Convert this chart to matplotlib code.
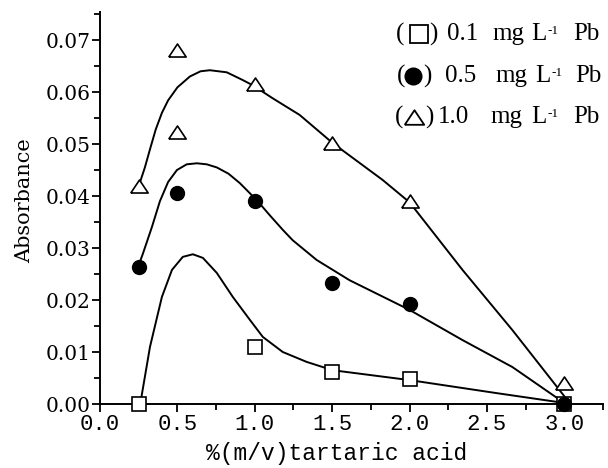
import matplotlib.pyplot as plt
from matplotlib.ticker import MultipleLocator, FormatStrFormatter

plt.rcParams['mathtext.fontset'] = 'stix'

# measured points (% m/v tartaric acid vs absorbance)
x_01 = [0.25, 1.0, 1.5, 2.0, 3.0]
y_01 = [0.0, 0.011, 0.0062, 0.0048, 0.0]

x_05 = [0.25, 0.5, 1.0, 1.5, 2.0, 3.0]
y_05 = [0.0263, 0.0406, 0.039, 0.0232, 0.0192, 0.0]

x_10 = [0.25, 0.5, 0.5, 1.0, 1.5, 2.0, 3.0]
y_10 = [0.0419, 0.0681, 0.0523, 0.0615, 0.0502, 0.0390, 0.0040]

# smoothed curves
fit_x_01 = [0.26, 0.323, 0.40, 0.465, 0.535, 0.60, 0.665, 0.755, 0.858, 0.968,
            1.052, 1.181, 1.335, 1.503, 2.0, 2.561, 3.0]
fit_y_01 = [0.0, 0.011, 0.0206, 0.0258, 0.0283, 0.0288, 0.0281, 0.0252, 0.0206,
            0.0162, 0.0129, 0.0100, 0.0081, 0.0065, 0.0046, 0.0021, 0.0002]

fit_x_05 = [0.245, 0.277, 0.335, 0.387, 0.44, 0.497, 0.56, 0.626, 0.69, 0.755,
            0.83, 0.903, 1.013, 1.10, 1.181, 1.245, 1.400, 1.613, 1.742, 2.0,
            2.342, 2.665, 3.0]
fit_y_05 = [0.0263, 0.0289, 0.0340, 0.0390, 0.0427, 0.0450, 0.0461, 0.0463, 0.0461,
            0.0455, 0.0443, 0.0425, 0.0392, 0.0362, 0.0335, 0.0315, 0.0277, 0.0238,
            0.0219, 0.0181, 0.0123, 0.0071, 0.0002]

fit_x_10 = [0.25, 0.29, 0.323, 0.36, 0.40, 0.44, 0.50, 0.581, 0.650, 0.710, 0.819,
            0.923, 0.987, 1.116, 1.290, 1.503, 1.826, 2.0, 2.342, 2.665, 3.0]
fit_y_10 = [0.0419, 0.0455, 0.0490, 0.0528, 0.0560, 0.0584, 0.0609, 0.0630, 0.0640,
            0.0642, 0.0638, 0.0623, 0.0613, 0.0588, 0.0556, 0.0502, 0.0431, 0.0388,
            0.0258, 0.0142, 0.0015]

labels = ['0.1', '0.5', '1.0']

tri = [(-1, -0.75), (1, -0.75), (0, 0.75), (-1, -0.75)]

fig = plt.figure(figsize=(6.08, 4.68), dpi=100)
ax = fig.add_axes([100 / 608, 64 / 468, 503 / 608, 392 / 468])

ax.plot(fit_x_01, fit_y_01, color='black', lw=1.4, zorder=2)
ax.plot(fit_x_05, fit_y_05, color='black', lw=1.4, zorder=2)
ax.plot(fit_x_10, fit_y_10, color='black', lw=1.4, zorder=2)

ax.plot(x_01, y_01, ls='none', marker='s', ms=9.5, mfc='white', mec='black',
        mew=1.2, zorder=3, clip_on=False)
ax.plot(x_10, y_10, ls='none', marker=tri, ms=12.5, mfc='white', mec='black',
        mew=1.2, zorder=3, clip_on=False)
ax.plot(x_05, y_05, ls='none', marker='o', ms=10, mfc='black', mec='black',
        zorder=4, clip_on=False)

ax.set_xlim(0, 3.25)
ax.set_ylim(0, 0.0754)
ax.xaxis.set_major_locator(MultipleLocator(0.5))
ax.xaxis.set_minor_locator(MultipleLocator(0.25))
ax.yaxis.set_major_locator(MultipleLocator(0.01))
ax.yaxis.set_minor_locator(MultipleLocator(0.005))
ax.xaxis.set_major_formatter(FormatStrFormatter('%.1f'))
ax.yaxis.set_major_formatter(FormatStrFormatter('%.2f'))

for s in ['top', 'right']:
    ax.spines[s].set_visible(False)
for s in ['left', 'bottom']:
    ax.spines[s].set_linewidth(1.4)

ax.tick_params(which='major', direction='out', length=6, width=1.3, pad=1)
ax.tick_params(which='minor', direction='out', length=4, width=1.3)
for t in ax.get_xticklabels():
    t.set_fontfamily('Liberation Mono')
    t.set_fontsize(16)
for t in ax.get_yticklabels():
    t.set_fontfamily('DejaVu Serif')
    t.set_fontsize(14.5)

ax.set_xlabel('%(m/v)tartaric acid', fontfamily='Liberation Mono', fontsize=16.5)
ax.xaxis.set_label_coords(0.471, -0.098)
ax.set_ylabel('Absorbance', fontfamily='DejaVu Serif', fontsize=15)
ax.yaxis.set_label_coords(-0.13, 0.52)


# legend built from text pieces, positions in pixels of the figure
def px(x, y):
    return (x - 100) / 503, (404 - y) / 392


rows = [
    # y, '(' x, marker x, ')' x, number x, mg x, L x, Pb x
    (34, 396, 419, 429, 447, 492, 531, 573),
    (76, 397, 413, 423, 445, 495, 535, 575),
    (117, 395, 414, 425, 438, 490, 531, 573),
]
leg_markers = [dict(marker='s', ms=13, mfc='white', mec='black', mew=1.3),
               dict(marker='o', ms=12, mfc='black', mec='black'),
               dict(marker=tri, ms=14, mfc='white', mec='black', mew=1.3)]

for lab, row, mk in zip(labels, rows, leg_markers):
    y, xo, xm, xc, xn, xmg, xl, xpb = row
    kw = dict(transform=ax.transAxes, fontfamily='Liberation Serif', fontsize=18,
              va='center', ha='left')
    ax.text(*px(xo, y), '(', **kw)
    ax.plot(*px(xm, y), transform=ax.transAxes, clip_on=False, ls='none', **mk)
    ax.text(*px(xc, y), ')', **kw)
    ax.text(*px(xn, y), lab, **kw)
    ax.text(*px(xmg, y), 'mg', **kw)
    ax.text(*px(xl, y), 'L', **kw)
    ax.text(*px(xl + 16, y - 9), '-1', transform=ax.transAxes,
            fontfamily='Liberation Serif', fontsize=9.5, va='top', ha='left')
    ax.text(*px(xpb, y), 'Pb', **kw)

fig.savefig('out.png', dpi=100)
